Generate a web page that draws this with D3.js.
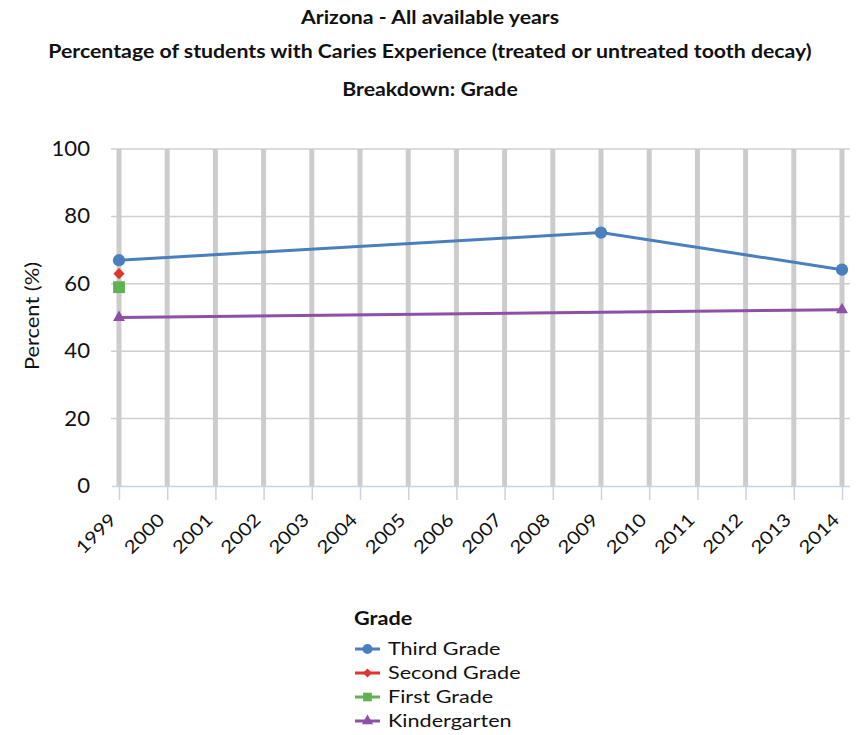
<!DOCTYPE html>
<html>
<head>
<meta charset="utf-8">
<script src="https://cdn.jsdelivr.net/npm/d3@7"></script>
<style>
  body { margin: 0; background: #fff; font-family: Lato, "Open Sans", sans-serif; }
  svg { display: block; }
</style>
</head>
<body>
<div id="chart"></div>
<script>
// Chart data
const years = [1999, 2000, 2001, 2002, 2003, 2004, 2005, 2006, 2007, 2008, 2009, 2010, 2011, 2012, 2013, 2014];
const yTicks = [0, 20, 40, 60, 80, 100];
const seriesNames = ["Third Grade", "Second Grade", "First Grade", "Kindergarten"];
const seriesColors = ["#4a7fbe", "#e0352c", "#61b152", "#8e4fa8"];
const thirdGrade = [[1999, 67], [2009, 75.2], [2014, 64.2]];
const secondGrade = [[1999, 63]];
const firstGrade = [[1999, 59]];
const kindergarten = [[1999, 50], [2014, 52.3]];
const titles = [
  "Arizona - All available years",
  "Percentage of students with Caries Experience (treated or untreated tooth decay)",
  "Breakdown: Grade"
];

const allSeries = [thirdGrade, secondGrade, firstGrade, kindergarten];

// the original font runs a bit wider than Lato, so stretch text along its direction
const stretch = 1.15;

// marker shapes: circle, diamond (rotated square), square, triangle
const symbolDiamondSq = {
  draw(context, size) {
    const r = Math.sqrt(size / 2);
    context.moveTo(0, -r);
    context.lineTo(r, 0);
    context.lineTo(0, r);
    context.lineTo(-r, 0);
    context.closePath();
  }
};
const seriesSymbols = [d3.symbolCircle, symbolDiamondSq, d3.symbolSquare, d3.symbolTriangle];
const markerSizes = [118, 62, 140, 62];
const legendSizes = [80, 40, 75, 55];

const svgWidth = 860, svgHeight = 735;
const margin = {top: 149, left: 119, right: 18, bottom: 249};
const width = svgWidth - margin.left - margin.right;
const height = svgHeight - margin.top - margin.bottom;

const svg = d3.select("#chart").append("svg")
    .attr("width", svgWidth)
    .attr("height", svgHeight);

// Titles
svg.selectAll(".title")
  .data(titles)
  .enter()
  .append("text")
  .attr("class", "title")
  .attr("transform", (d, i) => `translate(${svgWidth / 2},${[23.5, 58, 95.5][i]}) scale(${stretch},1)`)
  .style("text-anchor", "middle")
  .style("font-size", "18.5px")
  .style("font-weight", "bold")
  .style("fill", "#111")
  .text(d => d);

const g = svg.append("g")
    .attr("transform", `translate(${margin.left},${margin.top})`);

const xScale = d3.scaleLinear().domain([1999, 2014]).range([0, width]);
const yScale = d3.scaleLinear().domain([0, 100]).range([height, 0]);

// Horizontal gridlines
g.selectAll(".hgrid")
  .data(yTicks.filter(d => d > 0))
  .enter()
  .append("line")
  .attr("x1", -8).attr("x2", width + 8)
  .attr("y1", d => yScale(d)).attr("y2", d => yScale(d))
  .style("stroke", "#cfcfcf")
  .style("stroke-width", 1.5);

// Vertical gridlines (thick)
g.selectAll(".vgrid")
  .data(years)
  .enter()
  .append("line")
  .attr("x1", d => xScale(d)).attr("x2", d => xScale(d))
  .attr("y1", 0).attr("y2", height)
  .style("stroke", "#cccccc")
  .style("stroke-width", 5);

// X axis
const xAxis = g.append("g")
  .attr("transform", `translate(0,${height})`)
  .call(d3.axisBottom(xScale).tickValues(years).tickFormat(d3.format("d")).tickSize(14).tickSizeOuter(0));
xAxis.select(".domain").attr("d", `M-7,0.5H${width + 8}`).style("stroke", "#c5d3e2").style("stroke-width", 1.5);
xAxis.selectAll(".tick line").style("stroke", "#c5d3e2").style("stroke-width", 1.5);
xAxis.selectAll(".tick text")
  .attr("x", 0)
  .attr("y", 0)
  .attr("dy", 0)
  .attr("transform", `translate(-2,35) rotate(-45) scale(${stretch},1)`)
  .style("text-anchor", "end")
  .style("font-family", "Lato, sans-serif")
  .style("font-size", "18px")
  .style("fill", "#111");

// Y axis labels
const yAxis = g.append("g")
  .call(d3.axisLeft(yScale).tickValues(yTicks).tickSize(0));
yAxis.select(".domain").remove();
yAxis.selectAll(".tick text")
  .attr("x", 0)
  .attr("transform", "translate(-29,0) scale(1.08,1)")
  .style("font-family", "Lato, sans-serif")
  .style("font-size", "20.5px")
  .style("fill", "#111");

// Y axis title
g.append("text")
  .attr("transform", `translate(-80,${yScale(50) - 1.5}) rotate(-90) scale(${stretch},1)`)
  .style("text-anchor", "middle")
  .style("font-size", "19px")
  .style("fill", "#111")
  .text("Percent (%)");

// Lines
const line = d3.line()
  .x(d => xScale(d[0]))
  .y(d => yScale(d[1]));

allSeries.forEach((data, i) => {
  if (data.length > 1) {
    g.append("path")
      .datum(data)
      .attr("d", line)
      .style("fill", "none")
      .style("stroke", seriesColors[i])
      .style("stroke-width", 3);
  }
  g.selectAll(".pt" + i)
    .data(data)
    .enter()
    .append("path")
    .attr("transform", d => `translate(${xScale(d[0])},${yScale(d[1])})`)
    .attr("d", d3.symbol().type(seriesSymbols[i]).size(markerSizes[i]))
    .style("fill", seriesColors[i]);
});

// Legend
const legend = svg.append("g").attr("transform", "translate(354,0)");
legend.append("text")
  .attr("transform", `translate(0,625) scale(1.11,1)`)
  .style("font-size", "19.5px")
  .style("font-weight", "bold")
  .style("fill", "#111")
  .text("Grade");

const items = legend.selectAll(".legend-item")
  .data(seriesNames)
  .enter()
  .append("g")
  .attr("transform", (d, i) => `translate(0,${649 + i * 24})`);
items.append("line")
  .attr("x1", 1).attr("x2", 26)
  .style("stroke", (d, i) => seriesColors[i])
  .style("stroke-width", 3);
items.append("path")
  .attr("transform", "translate(13.5,0)")
  .attr("d", (d, i) => d3.symbol().type(seriesSymbols[i]).size(legendSizes[i])())
  .style("fill", (d, i) => seriesColors[i]);
items.append("text")
  .attr("transform", `translate(34,0) scale(1.2,1)`)
  .attr("dy", "0.35em")
  .style("font-size", "18px")
  .style("fill", "#111")
  .text(d => d);
</script>
</body>
</html>
